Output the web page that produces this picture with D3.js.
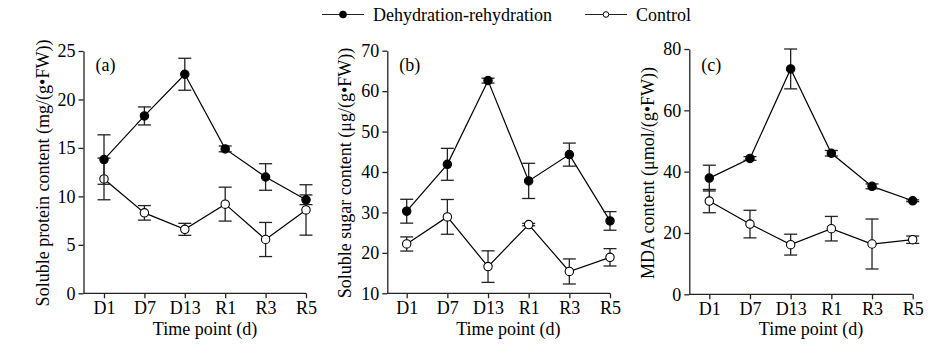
<!DOCTYPE html>
<html>
<head>
  <script src="https://d3js.org/d3.v7.min.js"></script>
  <style>
    body { margin: 0; background: #fff; }
    svg { font-family: 'Liberation Serif', 'Times New Roman', serif; }
    .axis { font-family: 'Liberation Serif', 'Times New Roman', serif; }
    .axis path, .axis line { stroke: #222; stroke-width: 1.3px; }
    .axis text { font-size: 18px; fill: #000; }
  </style>
</head>
<body>
<div id="chart"></div>
<script>
  // time points
  const timePoints = ["D1", "D7", "D13", "R1", "R3", "R5"];

  // (a) soluble protein
  const proteinDR = [13.8, 18.3, 22.6, 14.9, 12.0, 9.65];
  const proteinDRErr = [2.55, 0.93, 1.65, 0.3, 1.37, 0.5];
  const proteinCtrl = [11.8, 8.3, 6.6, 9.2, 5.55, 8.6];
  const proteinCtrlErr = [2.15, 0.75, 0.62, 1.75, 1.76, 2.6];

  // (b) soluble sugar
  const sugarDR = [30.3, 41.9, 62.6, 37.8, 44.3, 27.9];
  const sugarDRErr = [2.95, 3.95, 0.6, 4.35, 2.85, 2.3];
  const sugarCtrl = [22.2, 28.9, 16.6, 27.0, 15.4, 18.9];
  const sugarCtrlErr = [1.75, 4.3, 3.9, 0.3, 3.1, 2.15];

  // (c) MDA
  const mdaDR = [37.9, 44.3, 73.5, 46.0, 35.2, 30.5];
  const mdaDRErr = [4.2, 0.6, 6.5, 0.9, 0.8, 0.3];
  const mdaCtrl = [30.4, 22.9, 16.2, 21.4, 16.4, 17.8];
  const mdaCtrlErr = [3.8, 4.5, 3.4, 4.0, 8.15, 1.2];

  const yTicksA = [0, 5, 10, 15, 20, 25];
  const yTicksB = [10, 20, 30, 40, 50, 60, 70];
  const yTicksC = [0, 20, 40, 60, 80];

  const width = 946, height = 354;

  const svg = d3.select("#chart").append("svg")
    .attr("width", width)
    .attr("height", height);

  const panels = [
    { label: "(a)", title: "Soluble protein content (mg/(g\u2022FW))",
      axisX: 83.5, xr: [104, 306], domain: [0, 25], yr: [293.3, 51], ticks: yTicksA,
      titleX: 49, dr: proteinDR, drErr: proteinDRErr, ct: proteinCtrl, ctErr: proteinCtrlErr },
    { label: "(b)", title: "Soluble sugar content (\u03bcg/(g\u2022FW))",
      axisX: 387.3, xr: [406.7, 610], domain: [10, 70], yr: [293.3, 50.7], ticks: yTicksB,
      titleX: 351, dr: sugarDR, drErr: sugarDRErr, ct: sugarCtrl, ctErr: sugarCtrlErr },
    { label: "(c)", title: "MDA content (\u03bcmol/(g\u2022FW))",
      axisX: 689.3, xr: [709.3, 912.7], domain: [0, 80], yr: [294.3, 49], ticks: yTicksC,
      titleX: 654, dr: mdaDR, drErr: mdaDRErr, ct: mdaCtrl, ctErr: mdaCtrlErr }
  ];

  panels.forEach(p => {
    const x = d3.scalePoint().domain(timePoints).range(p.xr);
    const y = d3.scaleLinear().domain(p.domain).range(p.yr);
    const g = svg.append("g");

    // y axis
    g.append("g")
      .attr("class", "axis")
      .attr("transform", `translate(${p.axisX},0)`)
      .call(d3.axisLeft(y).tickValues(p.ticks).tickSize(5).tickPadding(3).tickSizeOuter(0));

    // x axis line runs from the y axis to the last point
    const xa = g.append("g")
      .attr("class", "axis")
      .attr("transform", `translate(0,${p.yr[0]})`)
      .call(d3.axisBottom(x).tickSize(5).tickPadding(3).tickSizeOuter(0));
    xa.select(".domain").attr("d", `M${p.axisX},0H${p.xr[1]}`);

    // titles
    g.append("text")
      .attr("transform", `translate(${p.titleX},173) rotate(-90)`)
      .attr("text-anchor", "middle")
      .style("font-size", "18px")
      .text(p.title);

    g.append("text")
      .attr("x", (p.xr[0] + p.xr[1]) / 2)
      .attr("y", 335)
      .attr("text-anchor", "middle")
      .style("font-size", "18px")
      .text("Time point (d)");

    g.append("text")
      .attr("x", p.axisX + 12)
      .attr("y", 71)
      .style("font-size", "18px")
      .text(p.label);

    const series = [
      { vals: p.ct, err: p.ctErr, fill: "#fff" },
      { vals: p.dr, err: p.drErr, fill: "#000" }
    ];

    series.forEach(s => {
      const pts = timePoints.map((t, i) => ({ t: t, v: s.vals[i], e: s.err[i] }));

      g.append("path")
        .datum(pts)
        .attr("fill", "none")
        .attr("stroke", "#000")
        .attr("stroke-width", 1.2)
        .attr("d", d3.line().x(d => x(d.t)).y(d => y(d.v)));

      const eb = g.selectAll(null).data(pts).enter().append("g")
        .attr("stroke", "#222")
        .attr("stroke-width", 1.3);
      eb.append("line")
        .attr("x1", d => x(d.t)).attr("x2", d => x(d.t))
        .attr("y1", d => y(d.v - d.e)).attr("y2", d => y(d.v + d.e));
      eb.append("line")
        .attr("x1", d => x(d.t) - 6.5).attr("x2", d => x(d.t) + 6.5)
        .attr("y1", d => y(d.v + d.e)).attr("y2", d => y(d.v + d.e));
      eb.append("line")
        .attr("x1", d => x(d.t) - 6.5).attr("x2", d => x(d.t) + 6.5)
        .attr("y1", d => y(d.v - d.e)).attr("y2", d => y(d.v - d.e));

      g.selectAll(null).data(pts).enter().append("circle")
        .attr("cx", d => x(d.t))
        .attr("cy", d => y(d.v))
        .attr("r", 4.2)
        .attr("fill", s.fill)
        .attr("stroke", "#000")
        .attr("stroke-width", 1.1);
    });
  });

  // legend
  const legend = svg.append("g");
  const legendItems = [
    { name: "Dehydration-rehydration", x0: 322, fill: "#000", r: 3.4 },
    { name: "Control", x0: 585, fill: "#fff", r: 2.8 }
  ];
  legendItems.forEach(d => {
    legend.append("line")
      .attr("x1", d.x0).attr("x2", d.x0 + 42)
      .attr("y1", 14.5).attr("y2", 14.5)
      .attr("stroke", "#222").attr("stroke-width", 1.2);
    legend.append("circle")
      .attr("cx", d.x0 + 21).attr("cy", 14.5).attr("r", d.r)
      .attr("fill", d.fill).attr("stroke", "#000").attr("stroke-width", 1);
    legend.append("text")
      .attr("x", d.x0 + 51)
      .attr("y", 21)
      .style("font-size", "18px")
      .text(d.name);
  });
</script>
</body>
</html>
